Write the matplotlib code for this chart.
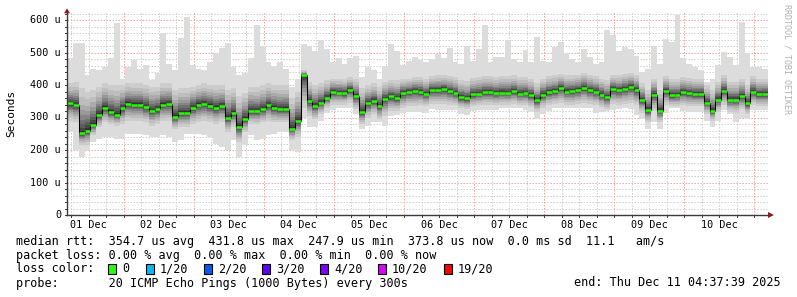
import matplotlib
matplotlib.use("Agg")
import matplotlib.pyplot as plt
from matplotlib.patches import Rectangle
import numpy as np

W, H = 797, 297

# hours since 01 Dec 00:00; last sample Thu Dec 11 04:37:39, 2-hour steps
t_end = 240 + 4 + 37 / 60 + 39 / 3600
step_h = 2.0

# median rtt per step (microseconds)
median = [344, 338, 251, 260, 278, 308, 330, 317, 309, 328, 343, 340, 340, 333, 320, 325,
          340, 342, 302, 315, 315, 330, 340, 342, 337, 330, 335, 300, 315, 270, 296,
          320, 319, 325, 338, 330, 326, 327, 265, 290, 430, 350, 335, 345, 361, 378,
          377, 375, 385, 365, 316, 344, 352, 335, 358, 365, 360, 375, 378, 383,
          379, 373, 385, 385, 387, 381, 376, 362, 359, 372, 373, 378, 378, 376, 377,
          376, 381, 373, 376, 368, 353, 370, 379, 382, 391, 380, 381, 384, 392, 384,
          380, 370, 362, 387, 384, 389, 394, 385, 354, 323, 370, 320, 381, 368, 369,
          378, 375, 372, 372, 345, 320, 355, 383, 355, 355, 365, 344, 380, 371, 372]

# slowest / fastest ping per step
smoke_max = [482, 530, 530, 430, 450, 446, 456, 482, 590, 420, 456, 477, 451, 461, 415, 436,
             560, 466, 446, 545, 610, 461, 451, 446, 472, 500, 515, 530, 455, 430, 436,
             482, 585, 520, 470, 460, 470, 450, 395, 420, 528, 520, 505, 540, 512, 472,
             482, 466, 482, 490, 425, 455, 445, 420, 460, 528, 505, 461, 475, 487,
             477, 472, 480, 497, 482, 515, 470, 465, 520, 475, 512, 585, 470, 487, 487,
             538, 480, 470, 507, 470, 548, 475, 470, 518, 533, 500, 480, 470, 512, 487,
             466, 470, 569, 553, 505, 518, 510, 490, 440, 451, 520, 466, 543, 533, 615,
             482, 466, 456, 446, 410, 420, 461, 502, 487, 461, 595, 500, 455, 456, 451]
smoke_min = [255, 200, 180, 200, 225, 235, 240, 240, 235, 235, 250, 250, 250, 245, 240, 240,
             245, 240, 225, 230, 250, 250, 250, 245, 240, 220, 210, 200, 230, 180, 215,
             245, 232, 235, 246, 250, 256, 256, 200, 195, 300, 272, 272, 290, 315, 322,
             328, 328, 328, 310, 266, 275, 287, 285, 275, 305, 307, 315, 317, 317,
             318, 315, 325, 323, 323, 323, 323, 310, 307, 320, 323, 323, 323, 323, 328,
             328, 328, 328, 322, 318, 297, 310, 320, 328, 328, 328, 328, 328, 330, 328,
             313, 318, 320, 323, 325, 328, 325, 307, 295, 266, 285, 266, 313, 330, 330,
             320, 318, 318, 318, 290, 272, 290, 323, 310, 287, 300, 297, 323, 323, 323]

# edges of the dense part of the smoke
smoke_hi = [405, 410, 390, 380, 385, 395, 405, 400, 400, 400, 405, 405, 405, 400, 395, 395,
            405, 405, 385, 390, 390, 395, 400, 405, 400, 400, 400, 385, 390, 365, 375,
            395, 395, 400, 405, 400, 400, 400, 360, 380, 445, 410, 400, 405, 415, 420,
            420, 420, 425, 420, 390, 400, 405, 395, 410, 415, 415, 420, 420, 425,
            425, 420, 428, 430, 430, 428, 425, 415, 412, 422, 425, 428, 428, 425, 428,
            428, 430, 425, 425, 420, 405, 420, 428, 430, 435, 430, 430, 432, 438, 432,
            428, 420, 415, 432, 430, 435, 438, 430, 405, 385, 420, 385, 428, 420, 420,
            425, 422, 420, 420, 400, 385, 410, 430, 410, 410, 420, 400, 428, 420, 420]
smoke_lo = [290, 285, 215, 215, 245, 270, 285, 280, 275, 280, 290, 290, 290, 285, 275, 280,
            290, 290, 265, 270, 270, 280, 285, 290, 285, 280, 285, 255, 270, 225, 255,
            280, 280, 285, 290, 285, 285, 285, 230, 240, 330, 305, 295, 310, 330, 340,
            340, 340, 345, 325, 280, 300, 310, 295, 305, 320, 320, 330, 335, 335,
            338, 335, 342, 342, 342, 340, 338, 328, 325, 335, 338, 340, 340, 338, 340,
            340, 342, 338, 338, 332, 318, 330, 338, 342, 345, 340, 340, 342, 345, 342,
            338, 332, 325, 342, 340, 342, 345, 338, 315, 285, 320, 285, 340, 335, 335,
            338, 335, 335, 335, 310, 290, 318, 338, 318, 315, 325, 310, 338, 335, 335]

day_labels = ["01 Dec", "02 Dec", "03 Dec", "04 Dec", "05 Dec",
              "06 Dec", "07 Dec", "08 Dec", "09 Dec", "10 Dec"]
y_ticks = [0, 100, 200, 300, 400, 500, 600]
y_tick_labels = ["0", "100 u", "200 u", "300 u", "400 u", "500 u", "600 u"]

loss_labels = ["0", "1/20", "2/20", "3/20", "4/20", "10/20", "19/20"]
loss_colors = ["#26ff00", "#00b8ff", "#0059ff", "#5e00ff", "#7e00ff", "#dd00ff", "#ff0000"]

legend_rtt = "median rtt:  354.7 us avg  431.8 us max  247.9 us min  373.8 us now  0.0 ms sd  11.1   am/s"
legend_loss = "packet loss: 0.00 % avg  0.00 % max  0.00 % min  0.00 % now"
legend_probe = "probe:       20 ICMP Echo Pings (1000 Bytes) every 300s"
legend_end = "end: Thu Dec 11 04:37:39 2025"

MONO = "DejaVu Sans Mono"
LEG_FS = 8.45


def fx(px):
    return px / W


def fy(py):
    return 1 - py / H


fig = plt.figure(figsize=(W / 100, H / 100), dpi=100)
fig.patch.set_facecolor("white")
ax = fig.add_axes([fx(67), 82 / H, 701 / W, 203 / H])
ax.set_facecolor("white")

n = len(median)
t0 = t_end - n * step_h
edges = t0 + step_h * np.arange(n + 1)


def ext(a):
    a = np.asarray(a, dtype=float)
    return np.append(a, a[-1])


med = ext(median)
hi = ext(smoke_hi)
lo = ext(smoke_lo)

# grid (underneath the smoke), fine dots
grid_dash = (0, (1.4, 1.6))
minor_col, major_col = "#cdcdcd", "#f0a0a0"
for v in range(20, 621, 20):
    major = v % 100 == 0
    ax.axhline(v, color=major_col if major else minor_col, lw=0.72, ls=grid_dash, zorder=0.5)
h = 6
while h < t_end:
    if h > t0:
        major = h % 24 == 0
        ax.axvline(h, color=major_col if major else minor_col, lw=0.72, ls=grid_dash, zorder=0.5)
    h += 6

# smoke: outer pings light, toward the median darker
ax.fill_between(edges, ext(smoke_min), ext(smoke_max), step="post",
                color="#dcdcdc", lw=0, zorder=1)
fracs = [1.0, 0.80, 0.64, 0.51, 0.40, 0.30, 0.21, 0.13, 0.06]
grays = [0.80, 0.74, 0.67, 0.60, 0.52, 0.44, 0.36, 0.28, 0.20]
for f, g in zip(fracs, grays):
    ax.fill_between(edges, med - (med - lo) * f, med + (hi - med) * f, step="post",
                    color=(g, g, g), lw=0, zorder=1)

# median line and loss-coloured markers
ax.step(edges, med, where="post", color="black", lw=0.75, zorder=4)
ax.hlines(median, edges[:-1], edges[1:], color=loss_colors[0], lw=1.8, zorder=5)

ax.set_xlim(t0, t_end)
ax.set_ylim(0, 625)
ax.set_xticks([])
ax.set_yticks([])
for s in ax.spines.values():
    s.set_visible(False)

# axes with arrows
px_h = (t_end - t0) / 701
px_v = 625 / 203
axis_col = "#3a3a3a"
arrow_col = "#8a1c1c"
ax.plot([t0, t0], [0, 621], color=axis_col, lw=1.0, clip_on=False, zorder=6)
ax.plot([t0, t_end], [0, 0], color=axis_col, lw=1.0, clip_on=False, zorder=6)
ax.fill([t0 - 3 * px_h, t0 + 3 * px_h, t0], [621, 621, 621 + 5 * px_v],
        color=arrow_col, clip_on=False, zorder=7, lw=0)
ax.fill([t_end, t_end, t_end + 6 * px_h], [-3 * px_v, 3 * px_v, 0],
        color=arrow_col, clip_on=False, zorder=7, lw=0)

# tick marks
for v in range(0, 621, 20):
    ax.plot([t0 - 2 * px_h, t0], [v, v], color=axis_col, lw=0.7, clip_on=False, zorder=6)
h = 6
while h < t_end:
    if h > t0:
        ax.plot([h, h], [-2 * px_v, 0], color=axis_col, lw=0.7, clip_on=False, zorder=6)
    h += 6

# tick labels
for v, lab in zip(y_ticks, y_tick_labels):
    fig.text(fx(61), fy(215 - v * 0.325), lab, ha="right", va="center",
             family=MONO, fontsize=7.3)
for i, lab in enumerate(day_labels):
    t_noon = 24 * i + 12
    px = 67 + (t_noon - t0) / px_h
    fig.text(fx(px), fy(225), lab, ha="center", va="center", family=MONO, fontsize=7.3)

fig.text(fx(11), fy(113), "Seconds", rotation=90, ha="center", va="center",
         family=MONO, fontsize=8)
fig.text(fx(787), fy(59), "RRDTOOL / TOBI OETIKER", rotation=270, ha="center",
         va="center", family=MONO, fontsize=6, color="#b0b0b0")

# legend
fig.text(fx(16), fy(241), legend_rtt, ha="left", va="center", family=MONO, fontsize=LEG_FS)
fig.text(fx(16), fy(255), legend_loss, ha="left", va="center", family=MONO, fontsize=LEG_FS)
fig.text(fx(16), fy(269), "loss color:", ha="left", va="center", family=MONO, fontsize=LEG_FS)
box_x = [108, 146, 204, 262, 320, 378, 444]
for bx, col, lab in zip(box_x, loss_colors, loss_labels):
    fig.patches.append(Rectangle((fx(bx), fy(274)), 8 / W, 10 / H, transform=fig.transFigure,
                                 facecolor=col, edgecolor="black", lw=0.8))
    fig.text(fx(bx + 14), fy(269), lab, ha="left", va="center", family=MONO, fontsize=LEG_FS)
fig.text(fx(16), fy(283), legend_probe, ha="left", va="center", family=MONO, fontsize=LEG_FS)
fig.text(fx(781), fy(283), legend_end, ha="right", va="center", family=MONO, fontsize=LEG_FS)

fig.savefig("out.png", dpi=100, facecolor="white")
